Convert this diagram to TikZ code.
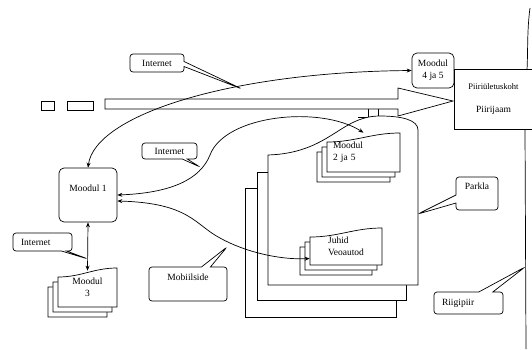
\documentclass[tikz,border=0pt]{standalone}
\usepackage{fontspec}
\setmainfont{Liberation Serif}
\usetikzlibrary{arrows.meta,shapes.callouts}

\tikzset{
    >={Stealth[length=5pt,width=4pt]},
    modbox/.style={draw, rounded corners=5pt, inner sep=0pt, align=center},
    page/.style={inner sep=0pt, align=center},
    bubble/.style={rectangle callout, draw, rounded corners=3pt, inner sep=0pt, callout pointer width=#1},
    bubble/.default=5pt
}

\newcommand{\docstack}[4]{%
    \foreach \d in {10,5,0}
        \draw[fill=white, shift={(-\d,\d)}] (#1,#2) -- ++(0,-#4+9) to[out=0,in=180] ++(#3,-9) -- ++(0,#4) -- cycle;
}

\begin{document}
\begin{tikzpicture}[x=1pt, y=-1pt, line width=0.7pt, font=\fontsize{9.5}{12}\selectfont]

        \useasboundingbox (0,0) rectangle (532,349);

        \draw (530,8) .. controls (527,30) and (528,50) .. (527,70) -- (525,130) -- (526,349);

        \draw (41,101) rectangle (54,110);
        \draw (67,101) rectangle (93,110);
        \draw (105,99) -- (398,99) -- (398,88) -- (453,101) -- (398,116) -- (398,109) -- (105,109) -- cycle;

        \draw (368,109) -- (368,117);
        \draw (378,109) -- (378,117);
        \draw (358,117) -- (388,117);

        \draw[fill=white] (245,188) rectangle (396,317);
        \draw[fill=white] (257,172) rectangle (406,300);
        \draw[fill=white] (268,285) -- (268,155) .. controls (330,153) and (340,116) .. (380,116) .. controls (402,116) and (418,120) .. (418,130) -- (418,285) -- cycle;

        \docstack{58}{307}{59}{39}
        \docstack{327}{172}{73}{39}
        \docstack{310}{265}{72}{37}

        \node[page, minimum width=59pt, minimum height=39pt] (m3) at (87.5,287.5) {Moodul\\3};
        \node[page, minimum width=73pt, minimum height=39pt, text width=61pt, align=left] (m25) at (363.5,152.5) {Moodul\\2 ja 5};
        \node[page, minimum width=72pt, minimum height=37pt, align=left] (ju) at (346,246.5) {Juhid\\Veoautod};

        \node[modbox, minimum width=58pt, minimum height=54pt, text height=7pt, text depth=15pt] (m1) at (88,195) {Moodul 1};
        \node[modbox, minimum width=42pt, minimum height=35pt] (m45) at (433,70.5) {Moodul\\4 ja 5};

        \node[fill=white, minimum width=77pt, minimum height=59pt, inner sep=0pt, align=center] (pz) at (493.5,99.5) {{\fontsize{8.5}{10}\selectfont Piiriületuskoht}\\[11pt]Piirijaam};
        \draw ([xshift=10pt]pz.north east) -- (pz.north west) -- (pz.south west) -- ([xshift=10pt]pz.south east);

        \node[bubble, minimum width=54pt, minimum height=18pt, callout absolute pointer={(242,89)}] (inet1) at (157,63) {Internet};
        \node[bubble, minimum width=55pt, minimum height=16pt, callout absolute pointer={(200,167)}] (inet2) at (169.5,151) {Internet};
        \node[bubble, minimum height=18pt, inner xsep=8pt, text width=43pt, align=left, callout absolute pointer={(88,259)}] (inet3) at (42.5,242) {Internet};
        \node[bubble=9pt, minimum width=78pt, minimum height=34pt, text height=7pt, text depth=15pt, callout absolute pointer={(227,247)}] (mob) at (188,284) {Mobiilside};
        \node[bubble=8pt, minimum width=42pt, minimum height=33pt, text height=7pt, text depth=16pt, callout absolute pointer={(418,214)}] (park) at (477,193.5) {Parkla};
        \node[bubble=14pt, minimum height=22pt, inner xsep=8pt, text width=53pt, align=left, callout absolute pointer={(525,267)}] (piir) at (468.5,303) {Riigipiir};

        \draw[<->] (m1.north) .. controls (95,115) and (230,72) .. (m45.west);
        \draw[<->] (m1.east) .. controls (170,193) and (200,180) .. (210,155) .. controls (225,115) and (320,105) .. (m25.north);
        \draw[<->] ([yshift=-6pt]m1.east) .. controls (190,203) and (195,225) .. (220,238) .. controls (245,252) and (280,260) .. ([yshift=-12pt]ju.west);
        \draw[<->] (m1.south) -- ([yshift=-3pt]m3.north);

\end{tikzpicture}
\end{document}
